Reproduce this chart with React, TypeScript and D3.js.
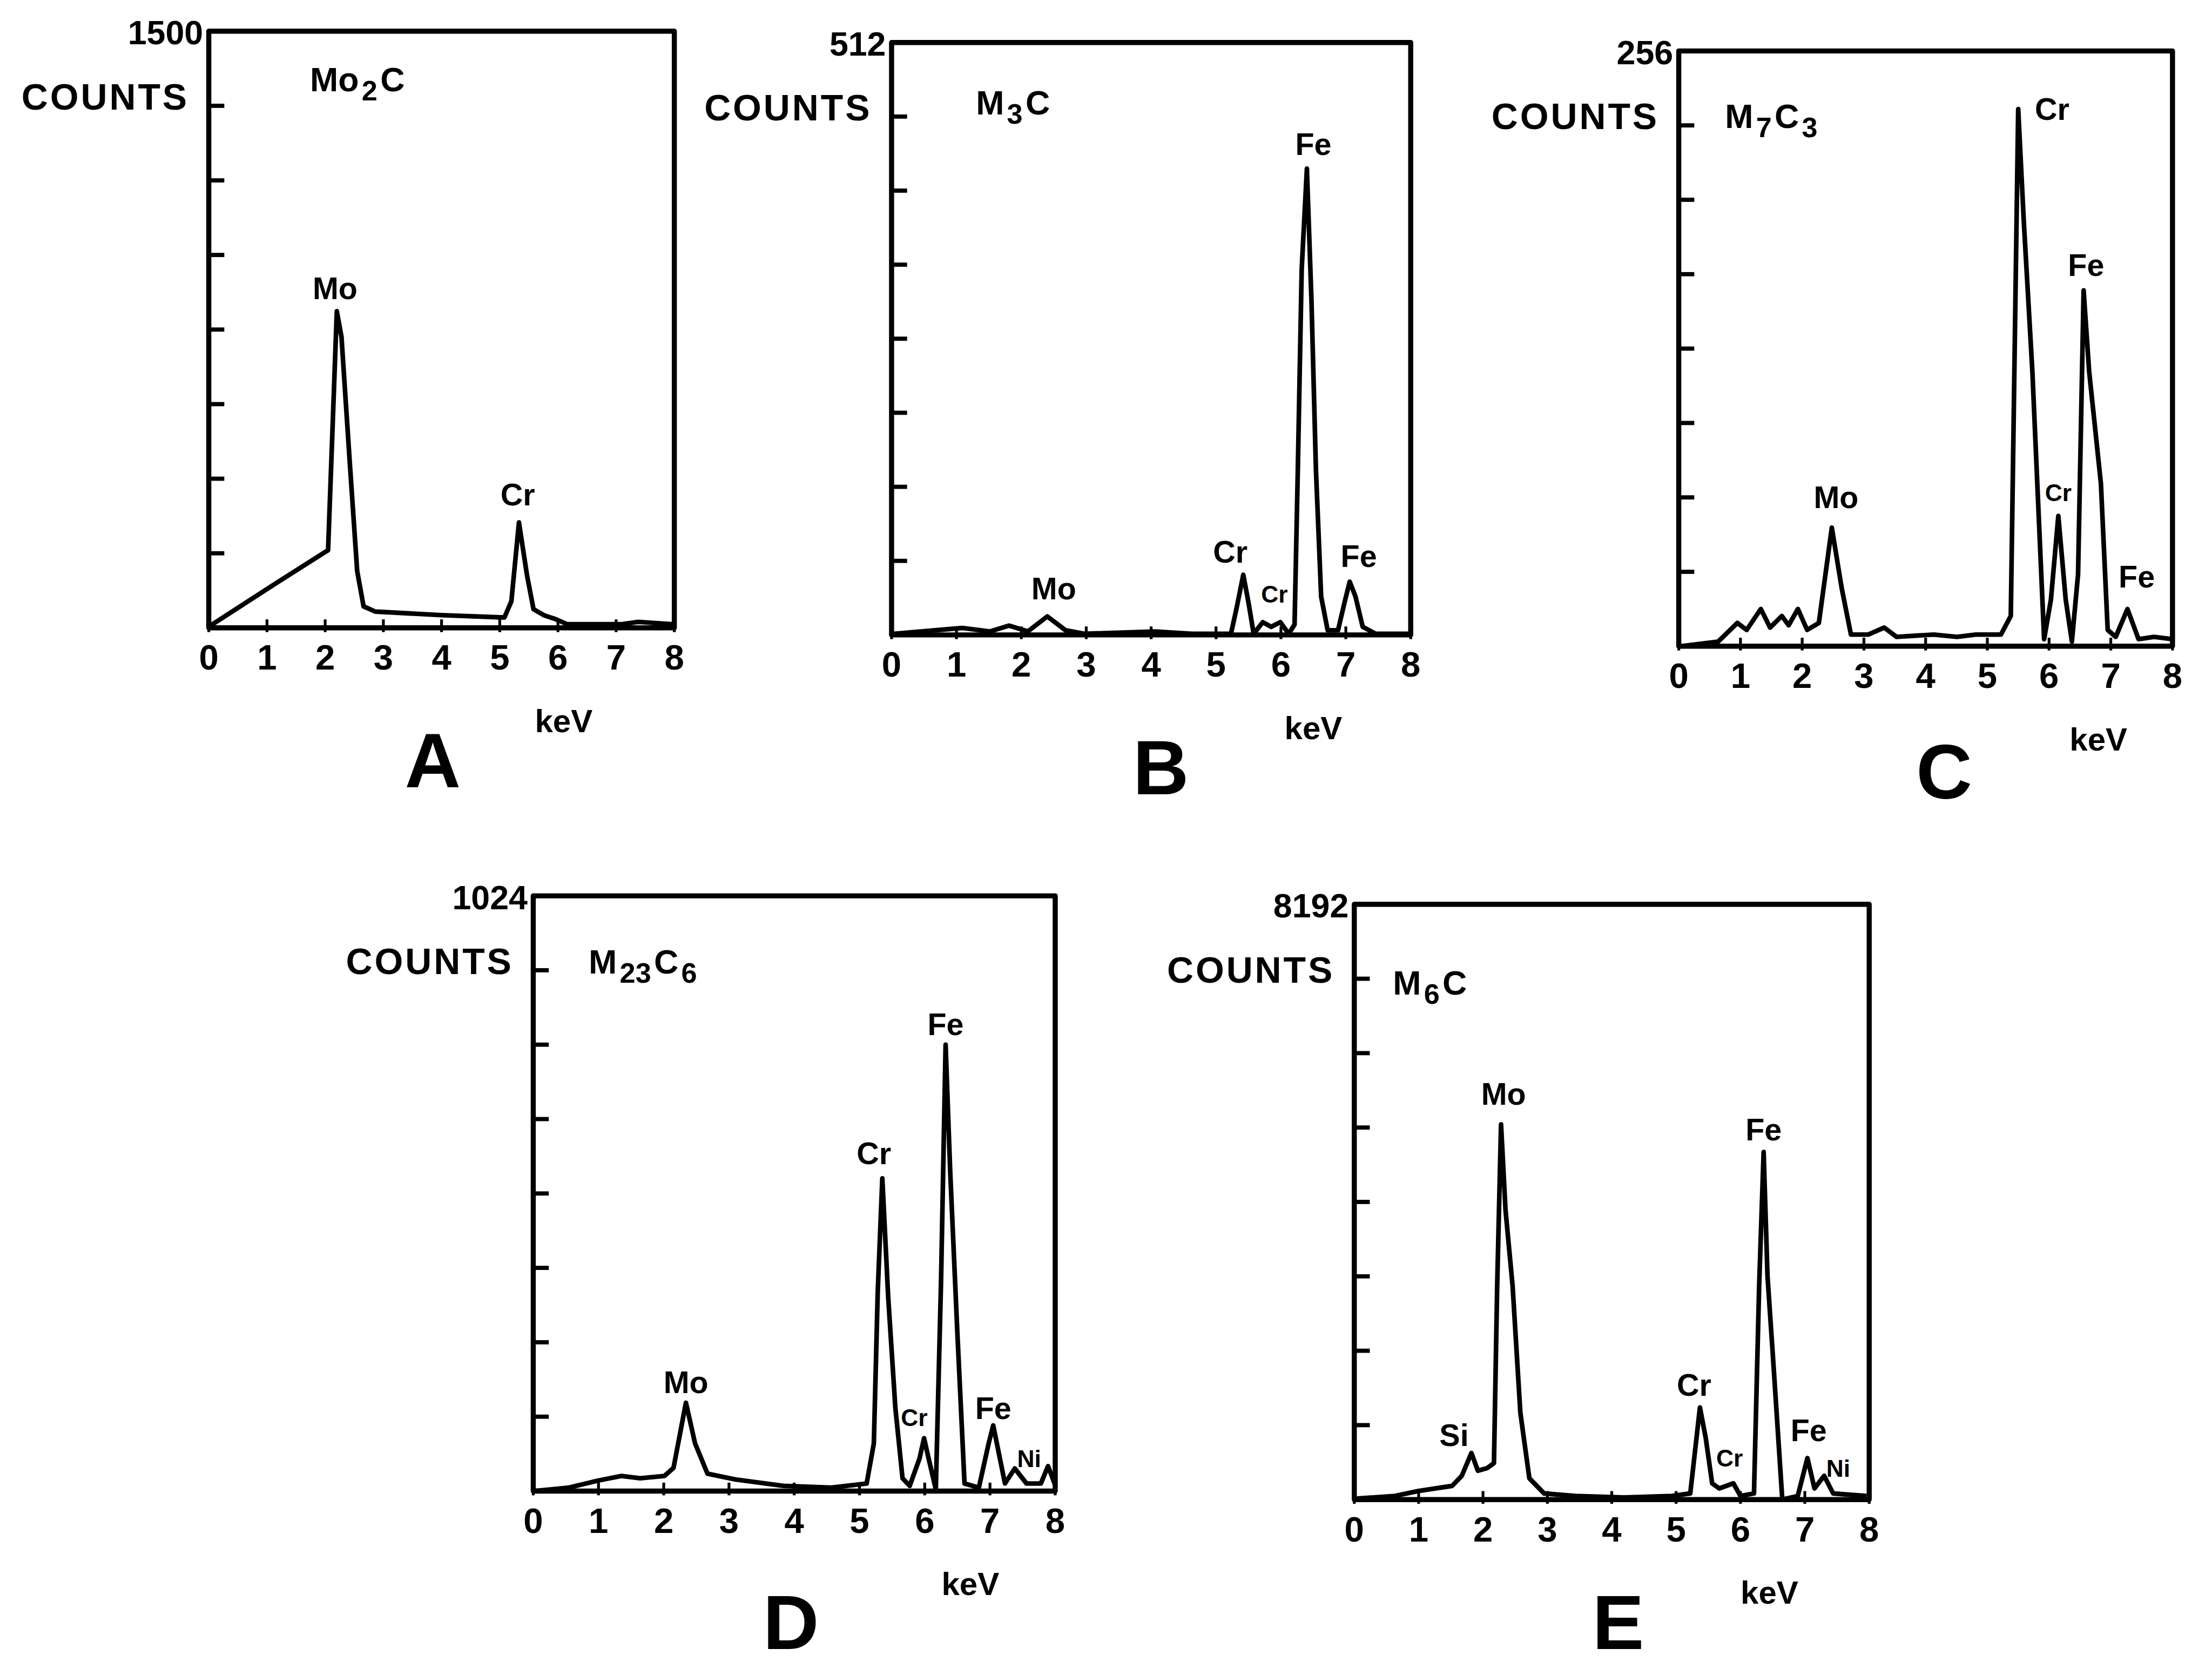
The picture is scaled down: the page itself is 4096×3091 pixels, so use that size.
import * as d3 from 'd3';

// traces, [keV, counts]
const spectrumA: [number, number][] = [
  [0, 3], [0.94, 92], [1.97, 188], [2.05, 195], [2.2, 796], [2.28, 732], [2.43, 400], [2.55, 143],
  [2.66, 54], [2.86, 41], [4.0, 32], [5.08, 26], [5.2, 67], [5.33, 265], [5.47, 131], [5.58, 47],
  [5.77, 31], [5.96, 22], [6.16, 9], [7.08, 9], [7.38, 15], [8, 9],
];
const spectrumB: [number, number][] = [
  [0.04, 1], [1.09, 6], [1.52, 3], [1.81, 8], [2.1, 3], [2.4, 16], [2.68, 4], [2.97, 1], [3.55, 2],
  [4.06, 3], [4.63, 1], [5.23, 1], [5.32, 24], [5.42, 52], [5.5, 28], [5.58, 1], [5.72, 11], [5.85, 7],
  [5.99, 11], [6.12, 1], [6.21, 9], [6.26, 142], [6.32, 316], [6.4, 403], [6.47, 290], [6.54, 142],
  [6.62, 33], [6.72, 4], [6.88, 4], [6.98, 28], [7.06, 46], [7.15, 33], [7.26, 7], [7.46, 1], [8, 1],
];
const spectrumC: [number, number][] = [
  [0.04, 0], [0.64, 2], [0.95, 10], [1.1, 7], [1.33, 16], [1.48, 8], [1.67, 13], [1.78, 9], [1.93, 16],
  [2.08, 7], [2.27, 10], [2.48, 51], [2.64, 25], [2.79, 5], [3.07, 5], [3.33, 8], [3.53, 4], [4.13, 5],
  [4.51, 4], [4.81, 5], [5.22, 5], [5.38, 13], [5.5, 231], [5.59, 183], [5.73, 118], [5.92, 3],
  [6.03, 20], [6.15, 56], [6.27, 20], [6.37, 2], [6.47, 31], [6.56, 153], [6.65, 118], [6.84, 70],
  [6.95, 7], [7.08, 4], [7.27, 16], [7.45, 3], [7.7, 4], [8, 3],
];
const spectrumD: [number, number][] = [
  [0, 0], [0.55, 6], [0.99, 18], [1.35, 26], [1.64, 22], [2.01, 26], [2.15, 40], [2.34, 152], [2.48, 82],
  [2.67, 30], [3.1, 20], [3.83, 9], [4.57, 6], [5.11, 13], [5.22, 82], [5.28, 343], [5.35, 538],
  [5.44, 334], [5.55, 143], [5.66, 22], [5.77, 9], [5.92, 56], [5.99, 91], [6.06, 56], [6.17, 3],
  [6.25, 360], [6.32, 768], [6.39, 551], [6.5, 273], [6.61, 13], [6.83, 6], [6.98, 82], [7.05, 113],
  [7.12, 74], [7.23, 13], [7.38, 39], [7.56, 13], [7.78, 13], [7.89, 43], [8, 10],
];
const spectrumE: [number, number][] = [
  [0.04, 14], [0.63, 49], [1.0, 118], [1.52, 188], [1.67, 327], [1.82, 640], [1.92, 397], [2.06, 431],
  [2.17, 501], [2.22, 2937], [2.28, 5164], [2.35, 3981], [2.46, 2937], [2.58, 1197], [2.72, 292],
  [2.95, 84], [3.44, 49], [4.19, 28], [4.93, 49], [5.22, 84], [5.37, 1267], [5.46, 849], [5.56, 223],
  [5.67, 153], [5.89, 223], [6.0, 49], [6.21, 84], [6.29, 2937], [6.36, 4782], [6.42, 3076],
  [6.51, 1893], [6.65, 0], [6.89, 49], [7.04, 571], [7.15, 153], [7.3, 327], [7.44, 84], [7.96, 49],
];

type Peak = { text: string; kev: number; counts: number; small?: boolean };
const peaksA: Peak[] = [{ text: 'Mo', kev: 2.17, counts: 854 }, { text: 'Cr', kev: 5.31, counts: 335 }];
const peaksB: Peak[] = [
  { text: 'Mo', kev: 2.5, counts: 40 }, { text: 'Cr', kev: 5.22, counts: 72 },
  { text: 'Cr', kev: 5.9, counts: 35, small: true }, { text: 'Fe', kev: 6.5, counts: 424 },
  { text: 'Fe', kev: 7.2, counts: 68 },
];
const peaksC: Peak[] = [
  { text: 'Mo', kev: 2.55, counts: 64 }, { text: 'Cr', kev: 6.05, counts: 231 },
  { text: 'Cr', kev: 6.15, counts: 66, small: true }, { text: 'Fe', kev: 6.6, counts: 164 },
  { text: 'Fe', kev: 7.42, counts: 30 },
];
const peaksD: Peak[] = [
  { text: 'Mo', kev: 2.34, counts: 187 }, { text: 'Cr', kev: 5.22, counts: 581 },
  { text: 'Fe', kev: 6.32, counts: 803 }, { text: 'Cr', kev: 5.84, counts: 126, small: true },
  { text: 'Fe', kev: 7.05, counts: 143 }, { text: 'Ni', kev: 7.6, counts: 56, small: true },
];
const peaksE: Peak[] = [
  { text: 'Si', kev: 1.55, counts: 884 }, { text: 'Mo', kev: 2.32, counts: 5582 },
  { text: 'Fe', kev: 6.36, counts: 5095 }, { text: 'Cr', kev: 5.28, counts: 1580 },
  { text: 'Cr', kev: 5.83, counts: 571, small: true }, { text: 'Fe', kev: 7.06, counts: 954 },
  { text: 'Ni', kev: 7.52, counts: 432, small: true },
];

// formula pieces: [text, isSubscript]
const titleA: [string, boolean][] = [['Mo', false], ['2', true], ['C', false]];
const titleB: [string, boolean][] = [['M', false], ['3', true], ['C', false]];
const titleC: [string, boolean][] = [['M', false], ['7', true], ['C', false], ['3', true]];
const titleD: [string, boolean][] = [['M', false], ['23', true], ['C', false], ['6', true]];
const titleE: [string, boolean][] = [['M', false], ['6', true], ['C', false]];

const kevTicks = [0, 1, 2, 3, 4, 5, 6, 7, 8];

const panels = [
  { key: 'A', max: 1500, spectrum: spectrumA, peaks: peaksA, title: titleA, titleAt: [1.74, 1379] },
  { key: 'B', max: 512, spectrum: spectrumB, peaks: peaksB, title: titleB, titleAt: [1.3, 460] },
  { key: 'C', max: 256, spectrum: spectrumC, peaks: peaksC, title: titleC, titleAt: [0.75, 228] },
  { key: 'D', max: 1024, spectrum: spectrumD, peaks: peaksD, title: titleD, titleAt: [0.85, 911] },
  { key: 'E', max: 8192, spectrum: spectrumE, peaks: peaksE, title: titleE, titleAt: [0.6, 7113] },
];

// frame boxes, measured in the 1568x1183 copy of the figure
const boxes: Record<string, { left: number; top: number; right: number; bottom: number; kevAt: number; letterAt: number; letterDrop: number }> = {
  A: { left: 148, top: 22, right: 478, bottom: 445, kevAt: 6.1, letterAt: 3.85, letterDrop: 113 },
  B: { left: 632, top: 30, right: 1000, bottom: 450, kevAt: 6.5, letterAt: 4.15, letterDrop: 113 },
  C: { left: 1190, top: 36, right: 1540, bottom: 458, kevAt: 6.8, letterAt: 4.3, letterDrop: 108 },
  D: { left: 378, top: 635, right: 748, bottom: 1057, kevAt: 6.7, letterAt: 3.95, letterDrop: 112 },
  E: { left: 960, top: 641, right: 1325, bottom: 1063, kevAt: 6.45, letterAt: 4.1, letterDrop: 106 },
};

const FONT = '"Liberation Sans", Arial, sans-serif';
const INK = '#000';

const Panel = ({ p }: { p: (typeof panels)[number] }) => {
  const b = boxes[p.key];
  const x = d3.scaleLinear().domain([0, 8]).range([b.left, b.right]);
  const y = d3.scaleLinear().domain([0, p.max]).range([b.bottom, b.top]);
  const line = d3.line<[number, number]>().x(d => x(d[0])).y(d => y(d[1]));
  const yTicks = d3.range(1, 8).map(i => (p.max * i) / 8);

  return (
    <g fontFamily={FONT} fontWeight="bold" fill={INK}>
      <rect x={b.left} y={b.top} width={b.right - b.left} height={b.bottom - b.top}
        fill="none" stroke={INK} strokeWidth={3.6} strokeLinejoin="round" />
      {yTicks.map((t, i) => (
        <line key={i} x1={b.left} x2={b.left + 11} y1={y(t)} y2={y(t)} stroke={INK} strokeWidth={3} />
      ))}
      {kevTicks.map(t => (
        <g key={t}>
          <line x1={x(t)} x2={x(t)} y1={b.bottom - 6} y2={b.bottom + 3} stroke={INK} strokeWidth={2} />
          <text x={x(t)} y={b.bottom + 21} textAnchor="middle" dominantBaseline="central" fontSize={25}>{t}</text>
        </g>
      ))}
      <text x={b.left - 4} y={b.top + 1} textAnchor="end" dominantBaseline="central" fontSize={24}>{p.max}</text>
      <text x={b.left - 14} y={y(p.max * 0.89)} textAnchor="end" dominantBaseline="central" fontSize={26}
        letterSpacing={1.5}>COUNTS</text>
      <text x={x(p.titleAt[0])} y={y(p.titleAt[1])} dominantBaseline="central" fontSize={24}>
        {p.title.map(([s, sub], i) => (
          <tspan key={i} fontSize={sub ? 20 : 24} dy={sub ? 8 : i > 0 ? -8 : 0} dx={i > 0 ? 2 : 0}>{s}</tspan>
        ))}
      </text>
      <path d={line(p.spectrum) ?? ''} fill="none" stroke={INK} strokeWidth={3.3} strokeLinejoin="round" />
      {p.peaks.map((pk, i) => (
        <text key={i} x={x(pk.kev)} y={y(pk.counts)} textAnchor="middle" dominantBaseline="central"
          fontSize={pk.small ? 17 : 22}>{pk.text}</text>
      ))}
      <text x={x(b.kevAt)} y={b.bottom + 66} textAnchor="middle" dominantBaseline="central" fontSize={23}>keV</text>
      <text x={x(b.letterAt)} y={b.bottom + b.letterDrop} textAnchor="middle" fontSize={55}
        fontWeight={900}>{p.key}</text>
    </g>
  );
};

export default function App() {
  return (
    <svg width={4096} height={3091} viewBox="0 0 1568 1183"
      style={{ position: 'absolute', left: 0, top: 0, background: '#fff' }}>
      <rect width={1568} height={1183} fill="#fff" />
      {panels.map(p => <Panel key={p.key} p={p} />)}
    </svg>
  );
}
